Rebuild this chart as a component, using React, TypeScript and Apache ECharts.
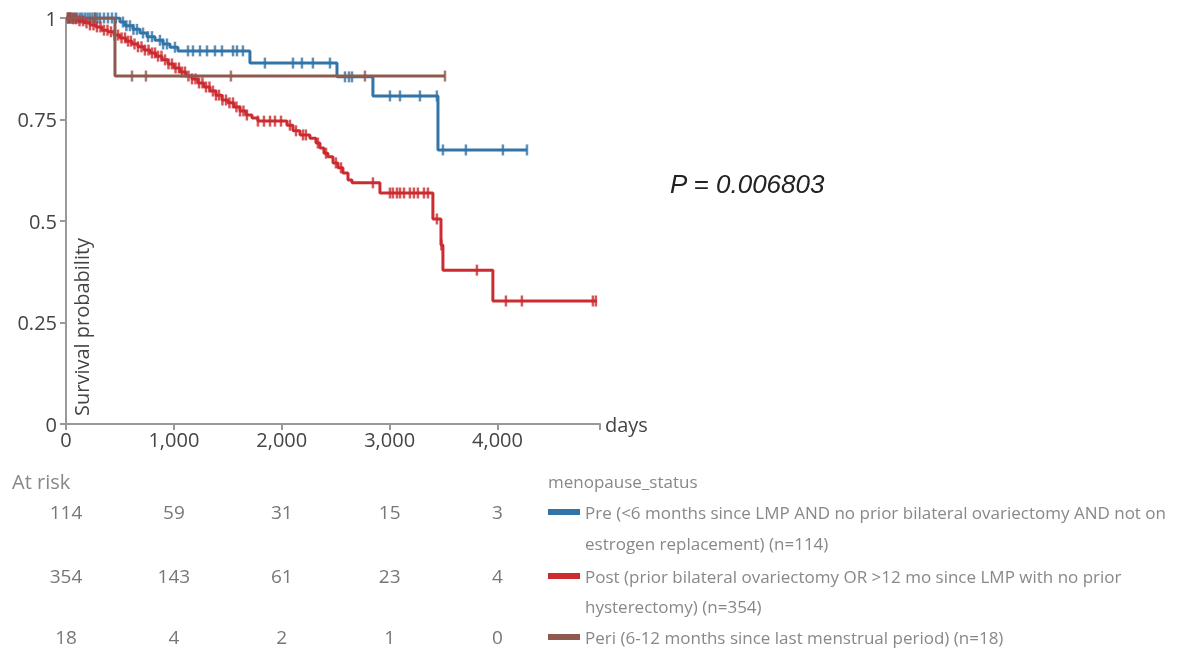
import { useEffect, useRef } from 'react';
import * as echarts from 'echarts';

// Kaplan-Meier step points [day, survival]
const preSteps: [number, number][] = [
  [0, 1], [500, 0.99], [547, 0.981], [621, 0.972], [686, 0.963], [751, 0.954], [825, 0.945],
  [899, 0.936], [964, 0.928], [1038, 0.919], [1705, 0.889], [2512, 0.855], [2845, 0.808],
  [3448, 0.675], [4273, 0.675],
];
const postSteps: [number, number][] = [
  [0, 1], [56, 0.998], [111, 0.993], [167, 0.988], [222, 0.983], [278, 0.978], [334, 0.97],
  [389, 0.966], [445, 0.958], [500, 0.951], [556, 0.943], [612, 0.936], [667, 0.929],
  [723, 0.921], [779, 0.914], [834, 0.906], [890, 0.897], [945, 0.887], [1001, 0.877],
  [1057, 0.867], [1112, 0.857], [1168, 0.85], [1223, 0.84], [1279, 0.83], [1335, 0.82],
  [1390, 0.81], [1446, 0.798], [1501, 0.791], [1557, 0.781], [1613, 0.771], [1668, 0.761],
  [1724, 0.754], [1779, 0.746], [2048, 0.736], [2104, 0.722], [2169, 0.712], [2261, 0.704],
  [2317, 0.692], [2354, 0.68], [2391, 0.667], [2428, 0.658], [2475, 0.643], [2521, 0.631],
  [2567, 0.618], [2614, 0.601], [2651, 0.594], [2910, 0.569], [3401, 0.505], [3476, 0.441],
  [3494, 0.379], [3957, 0.303], [4921, 0.303],
];
const periSteps: [number, number][] = [
  [0, 1], [454, 0.857], [3513, 0.857],
];

// Censoring times (days)
const preCensor = [
  20, 37, 60, 83, 105, 130, 150, 176, 200, 222, 245, 269, 290, 315, 352, 389, 426, 463, 528, 560,
  593, 625, 658, 714, 760, 797, 871, 900, 936, 1010, 1131, 1177, 1242, 1307, 1381, 1446, 1548,
  1585, 1640, 1844, 2104, 2187, 2289, 2447, 2586, 2623, 2651, 3003, 3096, 3281, 3438, 3494,
  3707, 4050, 4273,
];
const postCensor = [
  20, 37, 65, 93, 125, 158, 190, 222, 255, 287, 320, 352, 385, 417, 450, 482, 515, 547, 575,
  602, 635, 667, 700, 732, 765, 797, 825, 853, 885, 918, 950, 982, 1015, 1047, 1075, 1103,
  1135, 1168, 1200, 1233, 1265, 1298, 1330, 1362, 1390, 1418, 1450, 1483, 1515, 1548, 1580,
  1613, 1645, 1677, 1779, 1835, 1891, 1937, 1993, 2076, 2132, 2197, 2224, 2335, 2410, 2502,
  2549, 2845, 3003, 3030, 3068, 3096, 3133, 3188, 3225, 3262, 3318, 3355, 3438, 3480, 3809,
  4078, 4226, 4884, 4912,
];
const periCensor = [15, 50, 83, 269, 612, 741, 1529, 2771, 3513];

// At-risk table
const riskTimes = [0, 1000, 2000, 3000, 4000];
const riskPre = [114, 59, 31, 15, 3];
const riskPost = [354, 143, 61, 23, 4];
const riskPeri = [18, 4, 2, 1, 0];

const groupNames = ['Pre', 'Post', 'Peri'];
const legendTitle = 'menopause_status';
const legendLines = [
  ['Pre (<6 months since LMP AND no prior bilateral ovariectomy AND not on', 'estrogen replacement) (n=114)'],
  ['Post (prior bilateral ovariectomy OR >12 mo since LMP with no prior', 'hysterectomy) (n=354)'],
  ['Peri (6-12 months since last menstrual period) (n=18)'],
];
const pValueText = 'P = 0.006803';
const xMax = 4950;

const colors = ['#3274a8', '#cc2b30', '#8e5a50'];
const FONT = 'Open Sans';

function survAt(steps: [number, number][], t: number) {
  let s = steps[0][1];
  for (const [x, y] of steps) {
    if (x <= t) s = y;
    else break;
  }
  return s;
}

export default function App() {
  const ref = useRef<HTMLDivElement>(null);
  useEffect(() => {
    const chart = echarts.init(ref.current!, null, { renderer: 'svg' });
    const stepsAll = [preSteps, postSteps, periSteps];
    const censorAll = [preCensor, postCensor, periCensor];
    const series: any[] = [];
    stepsAll.forEach((steps, i) => {
      series.push({
        name: groupNames[i],
        type: 'line',
        step: 'end',
        data: steps,
        showSymbol: false,
        symbol: 'none',
        lineStyle: { color: colors[i], width: 3 },
        z: 2 + i,
      });
      series.push({
        name: groupNames[i] + ' censored',
        type: 'scatter',
        data: censorAll[i].map((t) => [t, survAt(steps, t)]),
        symbol: 'rect',
        symbolSize: [2.5, 11],
        itemStyle: { color: colors[i] },
        z: 2 + i,
      });
    });

    const axisColor = '#999';
    chart.setOption({
      animation: false,
      grid: { left: 66, top: 18, width: 534, height: 406 },
      xAxis: {
        type: 'value',
        min: 0,
        max: xMax,
        interval: 1000,
        name: 'days',
        nameLocation: 'end',
        nameGap: 5,
        nameTextStyle: { fontFamily: FONT, fontSize: 20, color: '#444' },
        axisLine: { show: true, lineStyle: { color: axisColor, width: 2 } },
        axisTick: { show: true, length: 6, lineStyle: { color: axisColor, width: 2 } },
        axisLabel: {
          fontFamily: FONT,
          fontSize: 20,
          color: '#444',
          margin: 5,
          formatter: (v: number) => (v % 1000 === 0 ? v.toLocaleString('en-US') : ''),
        },
        splitLine: { show: false },
      },
      yAxis: {
        type: 'value',
        min: 0,
        max: 1,
        interval: 0.25,
        axisLine: { show: true, lineStyle: { color: axisColor, width: 2 } },
        axisTick: { show: true, length: 6, lineStyle: { color: axisColor, width: 2 } },
        axisLabel: {
          fontFamily: FONT,
          fontSize: 20,
          color: '#444',
          margin: 9,
          formatter: (v: number) => String(v),
        },
        splitLine: { show: false },
      },
      series,
    });

    const g: any[] = [];
    g.push({
      type: 'text',
      x: 81,
      y: 416,
      rotation: Math.PI / 2,
      style: { text: 'Survival probability', fontFamily: FONT, fontSize: 20, lineHeight: 20, fill: '#444', align: 'left', verticalAlign: 'middle' },
    });
    g.push({
      type: 'text',
      x: 670,
      y: 184,
      style: { text: pValueText, fontFamily: 'Liberation Sans', fontStyle: 'italic', fontSize: 26, lineHeight: 26, fill: '#222', align: 'left', verticalAlign: 'middle' },
    });
    g.push({
      type: 'text',
      x: 12,
      y: 481,
      style: { text: 'At risk', fontFamily: FONT, fontSize: 20, lineHeight: 20, fill: '#888', align: 'left', verticalAlign: 'middle' },
    });
    const riskRows = [riskPre, riskPost, riskPeri];
    const rowY = [512, 576, 637];
    riskRows.forEach((row, r) => {
      row.forEach((v, i) => {
        const x = chart.convertToPixel({ xAxisIndex: 0 }, riskTimes[i]) as number;
        g.push({
          type: 'text',
          x,
          y: rowY[r],
          style: { text: String(v), fontFamily: FONT, fontSize: 19, lineHeight: 19, fill: '#777', align: 'center', verticalAlign: 'middle' },
        });
      });
    });
    g.push({
      type: 'text',
      x: 548,
      y: 481,
      style: { text: legendTitle, fontFamily: FONT, fontSize: 17, lineHeight: 17, fill: '#888', align: 'left', verticalAlign: 'middle' },
    });
    const legendY = [[512, 543], [576, 606], [637]];
    legendLines.forEach((lines, i) => {
      g.push({
        type: 'rect',
        shape: { x: 548, y: legendY[i][0] - 3, width: 32, height: 6 },
        style: { fill: colors[i] },
      });
      lines.forEach((ln, j) => {
        g.push({
          type: 'text',
          x: 585,
          y: legendY[i][j],
          style: { text: ln, fontFamily: FONT, fontSize: 17, lineHeight: 17, fill: '#888', align: 'left', verticalAlign: 'middle' },
        });
      });
    });
    chart.setOption({ graphic: g });
    return () => chart.dispose();
  }, []);
  return <div ref={ref} style={{ position: 'fixed', left: 0, top: 0, width: 1182, height: 649 }} />;
}
